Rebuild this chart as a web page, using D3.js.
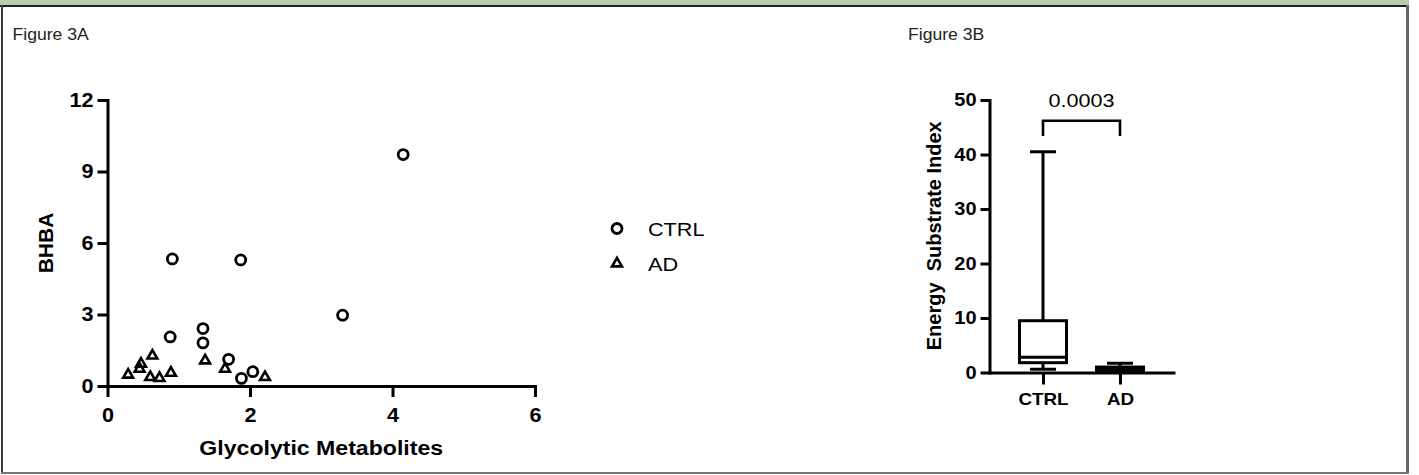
<!DOCTYPE html>
<html lang="en">
<head>
  <meta charset="UTF-8">
  <title>Figure 3</title>
  <script src="https://cdn.jsdelivr.net/npm/d3@7"></script>
  <style>
    body { margin: 0; background: #fff; }
    text { font-family: 'Liberation Sans', Arial, sans-serif; fill: #000; }
    .axis .domain, .axis line { stroke: #000; stroke-width: 3; }
    .axis .domain { stroke-linecap: square; }
    .axis text { font-weight: bold; }
  </style>
</head>
<body>

<script>
  // Figure 3A - scatter
  var ctrlX = [0.91, 1.87, 4.15, 0.88, 1.34, 1.34, 1.70, 1.88, 2.04, 3.30];
  var ctrlY = [5.33, 5.29, 9.71, 2.06, 2.41, 1.81, 1.12, 0.32, 0.60, 2.97];
  var adX = [0.29, 0.47, 0.45, 0.63, 0.60, 0.73, 0.89, 1.37, 1.65, 2.21];
  var adY = [0.47, 0.93, 0.72, 1.27, 0.37, 0.33, 0.55, 1.07, 0.72, 0.37];
  var xTicksA = [0, 2, 4, 6];
  var yTicksA = [0, 3, 6, 9, 12];
  var legendNames = ['CTRL', 'AD'];

  // Figure 3B - box plot
  var boxCats = ['CTRL', 'AD'];
  var boxMin = [0.6, 0.05];
  var boxQ1 = [1.8, 0.15];
  var boxMed = [2.8, 0.55];
  var boxQ3 = [9.5, 1.0];
  var boxMax = [40.5, 1.7];
  var yTicksB = [0, 10, 20, 30, 40, 50];
  var pValue = '0.0003';

  var SXN = 1.17, SXB = 1.1;  // glyphs in the figure are a bit wider than Arial

  function stretch(sel, sx) {
    sel.each(function () {
      var t = d3.select(this);
      var x = +t.attr('x') || 0;
      t.attr('transform', 'translate(' + x + ',0) scale(' + sx + ',1) translate(' + (-x) + ',0)');
    });
  }

  var svg = d3.select('body').append('svg').attr('width', 1419).attr('height', 475);

  // page frame
  svg.append('rect').attr('x', 0).attr('y', 0).attr('width', 1409).attr('height', 5).attr('fill', '#b7ccb0');
  svg.append('rect').attr('x', 0).attr('y', 5).attr('width', 1409).attr('height', 2).attr('fill', '#1e241e');
  svg.append('rect').attr('x', 1).attr('y', 5).attr('width', 2).attr('height', 469).attr('fill', '#3a3a3a');
  svg.append('rect').attr('x', 1406).attr('y', 5).attr('width', 3).attr('height', 469).attr('fill', '#666');
  svg.append('rect').attr('x', 1).attr('y', 472).attr('width', 1408).attr('height', 2).attr('fill', '#777');

  svg.append('text').attr('x', 12.5).attr('y', 40).style('font-size', '16px').style('fill', '#222')
    .text('Figure 3A').call(stretch, 1.1);
  svg.append('text').attr('x', 908).attr('y', 40).style('font-size', '16px').style('fill', '#222')
    .text('Figure 3B').call(stretch, 1.1);

  // ---------- 3A ----------
  var xA = d3.scaleLinear().domain([0, 6]).range([107.5, 535]);
  var yA = d3.scaleLinear().domain([0, 12]).range([386, 100]);

  var gxA = svg.append('g').attr('class', 'axis').attr('transform', 'translate(0,' + yA(0) + ')')
    .call(d3.axisBottom(xA).tickValues(xTicksA).tickFormat(d3.format('d')).tickSizeOuter(0).tickSizeInner(11).tickPadding(11));
  gxA.selectAll('text').style('font-size', '20px').call(stretch, 1.08);

  var gyA = svg.append('g').attr('class', 'axis').attr('transform', 'translate(' + xA(0) + ',0)')
    .call(d3.axisLeft(yA).tickValues(yTicksA).tickFormat(d3.format('d')).tickSizeOuter(0).tickSizeInner(10).tickPadding(4));
  gyA.selectAll('text').style('font-size', '20px').call(stretch, 1.08);

  svg.append('text').attr('x', (xA(0) + xA(6)) / 2).attr('y', 455).attr('text-anchor', 'middle')
    .style('font-size', '21px').style('font-weight', 'bold').text('Glycolytic Metabolites').call(stretch, SXB);
  svg.append('text').attr('transform', 'translate(53,' + (yA(0) + yA(12)) / 2 + ') rotate(-90)')
    .attr('text-anchor', 'middle').style('font-size', '21px').style('font-weight', 'bold').text('BHBA');

  var ctrlPts = ctrlX.map(function (x, i) { return [x, ctrlY[i]]; });
  var adPts = adX.map(function (x, i) { return [x, adY[i]]; });
  var tri = d3.symbol().type(d3.symbolTriangle).size(42);

  svg.append('g').selectAll('path').data(adPts).enter().append('path')
    .attr('d', tri)
    .attr('transform', function (d) { return 'translate(' + xA(d[0]) + ',' + yA(d[1]) + ')'; })
    .attr('fill', 'none').attr('stroke', '#000').attr('stroke-width', 2.6);
  svg.append('g').selectAll('circle').data(ctrlPts).enter().append('circle')
    .attr('cx', function (d) { return xA(d[0]); })
    .attr('cy', function (d) { return yA(d[1]); })
    .attr('r', 5)
    .attr('fill', 'none').attr('stroke', '#000').attr('stroke-width', 2.8);

  // legend
  var legend = svg.append('g').attr('transform', 'translate(617,228.5)');
  var li = legend.selectAll('g').data(legendNames).enter().append('g')
    .attr('transform', function (d, i) { return 'translate(0,' + i * 35 + ')'; });
  li.filter(function (d, i) { return i === 0; }).append('circle').attr('r', 5)
    .attr('fill', 'none').attr('stroke', '#000').attr('stroke-width', 2.8);
  li.filter(function (d, i) { return i === 1; }).append('path').attr('d', tri)
    .attr('fill', 'none').attr('stroke', '#000').attr('stroke-width', 2.6);
  li.append('text').attr('x', 31).attr('y', 7.2).style('font-size', '18.5px')
    .text(function (d) { return d; }).call(stretch, SXN);

  // ---------- 3B ----------
  var xB = d3.scalePoint().domain(boxCats).range([989.5, 1173.5]).padding(0.695);
  var yB = d3.scaleLinear().domain([0, 50]).range([372.5, 100]);

  var gxB = svg.append('g').attr('class', 'axis').attr('transform', 'translate(0,' + yB(0) + ')')
    .call(d3.axisBottom(xB).tickSizeOuter(0).tickSizeInner(12).tickPadding(9));
  gxB.selectAll('text').style('font-size', '16.5px').call(stretch, 1.14);

  var gyB = svg.append('g').attr('class', 'axis').attr('transform', 'translate(989.5,0)')
    .call(d3.axisLeft(yB).tickValues(yTicksB).tickSizeOuter(0).tickSizeInner(9).tickPadding(4));
  gyB.selectAll('text').style('font-size', '18.5px').call(stretch, 1.08);

  svg.append('text').attr('transform', 'translate(941,' + ((yB(0) + yB(50)) / 2 - 0.5) + ') rotate(-90)')
    .attr('text-anchor', 'middle').style('font-size', '20px').style('font-weight', 'bold')
    .style('white-space', 'pre').text('Energy  Substrate Index');

  var boxes = boxCats.map(function (c, i) {
    return { cat: c, min: boxMin[i], q1: boxQ1[i], med: boxMed[i], q3: boxQ3[i], max: boxMax[i] };
  });
  var boxW = 47, capW = 26;
  var bg = svg.append('g').selectAll('g').data(boxes).enter().append('g')
    .attr('stroke', '#000').attr('stroke-width', 3).attr('fill', 'none');
  bg.append('line')
    .attr('x1', function (d) { return xB(d.cat); }).attr('x2', function (d) { return xB(d.cat); })
    .attr('y1', function (d) { return yB(d.max); }).attr('y2', function (d) { return yB(d.min); });
  bg.append('rect')
    .attr('x', function (d) { return xB(d.cat) - boxW / 2; }).attr('width', boxW)
    .attr('y', function (d) { return yB(d.q3); })
    .attr('height', function (d) { return yB(d.q1) - yB(d.q3); })
    .attr('fill', '#fff');
  bg.append('line')
    .attr('x1', function (d) { return xB(d.cat) - boxW / 2; }).attr('x2', function (d) { return xB(d.cat) + boxW / 2; })
    .attr('y1', function (d) { return yB(d.med); }).attr('y2', function (d) { return yB(d.med); });
  ['max', 'min'].forEach(function (k) {
    bg.append('line')
      .attr('x1', function (d) { return xB(d.cat) - capW / 2; }).attr('x2', function (d) { return xB(d.cat) + capW / 2; })
      .attr('y1', function (d) { return yB(d[k]); }).attr('y2', function (d) { return yB(d[k]); });
  });

  // significance bracket
  var bTop = yB(46.2), bFoot = yB(43.4);
  svg.append('path')
    .attr('d', 'M' + xB('CTRL') + ',' + bFoot + 'V' + bTop + 'H' + xB('AD') + 'V' + bFoot)
    .attr('fill', 'none').attr('stroke', '#000').attr('stroke-width', 2.6);
  svg.append('text').attr('x', (xB('CTRL') + xB('AD')) / 2).attr('y', 106.7).attr('text-anchor', 'middle')
    .style('font-size', '18px').text(pValue).call(stretch, 1.2);
</script>

</body>
</html>
